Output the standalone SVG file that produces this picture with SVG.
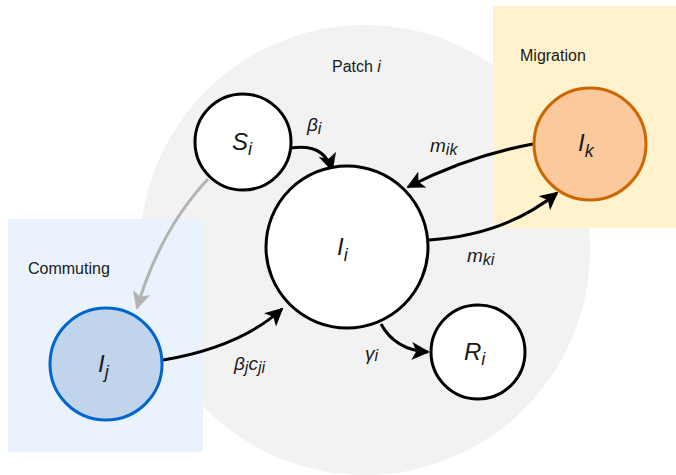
<svg xmlns="http://www.w3.org/2000/svg" width="676" height="475" viewBox="0 0 676 475">
<style>
.lbl{font-family:"Liberation Sans",Arial,sans-serif;font-size:16px;fill:#1a1a1a}
.it{font-family:"Liberation Sans",Arial,sans-serif;font-style:italic;fill:#1a1a1a}
.node{stroke:#000;stroke-width:3;fill:#fff}
.edge{fill:none;stroke:#000;stroke-width:3}
</style>
<defs>
<marker id="ah" viewBox="0 0 10 10" refX="9" refY="5" markerWidth="6" markerHeight="6" orient="auto" markerUnits="strokeWidth">
<path d="M0,0 L10,5 L0,10 L2.5,5 Z" fill="#000"/>
</marker>
<marker id="ahg" viewBox="0 0 10 10" refX="9" refY="5" markerWidth="6" markerHeight="6" orient="auto" markerUnits="strokeWidth">
<path d="M0,0 L10,5 L0,10 L2.5,5 Z" fill="#b3b3b3"/>
</marker>
</defs>
<rect width="676" height="475" fill="#fff"/>
<g id="patch">
<circle cx="365" cy="250" r="225" fill="#f2f2f2"/>
<text class="lbl" x="332" y="72">Patch <tspan font-style="italic">i</tspan></text>
</g>
<g id="migration">
<rect x="493" y="6" width="183" height="222" fill="#fff2cc"/>
<text class="lbl" x="520" y="61">Migration</text>
</g>
<g id="commuting">
<rect x="8" y="219" width="195" height="233" fill="#eaf2fd"/>
<text class="lbl" x="28" y="274">Commuting</text>
</g>
<g id="connectors">
<path class="edge" d="M291 148 Q324 143 332 170" marker-end="url(#ah)"/>
<path class="edge" d="M208 179 Q160 230 137 308" style="stroke:#b3b3b3" marker-end="url(#ahg)"/>
<path class="edge" d="M163 360 Q240 347 282 309" marker-end="url(#ah)"/>
<path class="edge" d="M533 144 Q468 156 408 187" marker-end="url(#ah)"/>
<path class="edge" d="M429 240 Q505 235 557 193" marker-end="url(#ah)"/>
<path class="edge" d="M381 324 Q395 350 428 352" marker-end="url(#ah)"/>
<text class="it" x="307" y="131" font-size="19">β<tspan font-size="16" dy="3">i</tspan></text>
<text class="it" x="430" y="152" font-size="19">m<tspan font-size="16" dy="3">ik</tspan></text>
<text class="it" x="467" y="262" font-size="19">m<tspan font-size="16" dy="3">ki</tspan></text>
<text class="it" x="234" y="370" font-size="19">β<tspan font-size="16" dy="3">j</tspan><tspan font-size="19" dy="-3">c</tspan><tspan font-size="16" dy="3">ji</tspan></text>
<text class="it" x="365" y="360" font-size="19">γ<tspan font-size="16" dy="1">i</tspan></text>
</g>
<g id="S_i">
<circle class="node" cx="243" cy="142" r="48"/>
<text class="it" x="232" y="150" font-size="24">S<tspan font-size="18" dy="5">i</tspan></text>
</g>
<g id="I_i">
<circle class="node" cx="347" cy="247" r="81"/>
<text class="it" x="337" y="255" font-size="24">I<tspan font-size="18" dy="6">i</tspan></text>
</g>
<g id="R_i">
<circle class="node" cx="478" cy="352" r="47"/>
<text class="it" x="464" y="360" font-size="24">R<tspan font-size="18" dy="5">i</tspan></text>
</g>
<g id="I_j">
<circle cx="106" cy="364" r="56" fill="#c0d5ec" stroke="#0066cc" stroke-width="3"/>
<text class="it" x="98" y="372" font-size="24">I<tspan font-size="18" dy="6">j</tspan></text>
</g>
<g id="I_k">
<circle cx="590" cy="144" r="56" fill="#fcc99c" stroke="#cc6600" stroke-width="3"/>
<text class="it" x="578" y="151" font-size="24">I<tspan font-size="18" dy="6">k</tspan></text>
</g>
</svg>
